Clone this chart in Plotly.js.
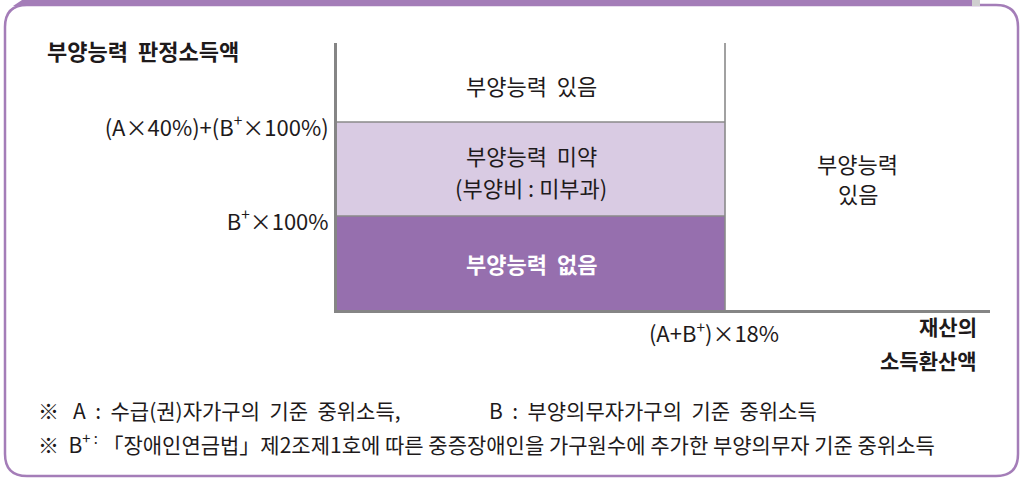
<!DOCTYPE html>
<html>
<head>
<meta charset="utf-8">
<script src="https://cdn.plot.ly/plotly-3.0.1.min.js"></script>
<style>
  html, body { margin: 0; padding: 0; background: #ffffff; }
  #chart { width: 1020px; height: 478px; }
</style>
</head>
<body>
<div id="chart"></div>
<script>
// ---- data ----
const xThreshold = [1];                         // (A+B+)×18%
const xTickLabels = ['(A+B<sup>+</sup>)×18%'];
const xMax = 1.683;
const yThresholds = [1, 2];                     // B+×100%, (A×40%)+(B+×100%)
const yTickLabels = ['B<sup>+</sup>×100%', '(A×40%)+(B<sup>+</sup>×100%)'];
const yMax = 2.84;
const regionLabels = ['부양능력 없음', '부양능력 미약', '(부양비 : 미부과)', '부양능력 있음', '부양능력', '있음'];
const yAxisTitle = '부양능력 판정소득액';
const xAxisTitle = ['재산의', '소득환산액'];
const footnotes = [
  '※ A : 수급(권)자가구의 기준 중위소득,',
  'B : 부양의무자가구의 기준 중위소득',
  '※ B<sup>+ :</sup> 「장애인연금법」제2조제1호에 따른 중증장애인을 가구원수에 추가한 부양의무자 기준 중위소득'
];

// ---- layout helpers ----
const W = 1020, H = 478;
const M = {l: 337, r: 30, t: 43, b: 168};
const PW = W - M.l - M.r, PH = H - M.t - M.b;
const px = x => (x - M.l) / PW;
const py = y => (H - M.b - y) / PH;
const wide = s => s.replace(/ /g, '\u00a0\u00a0');

const FONT = 'Noto Sans CJK KR, Noto Sans, sans-serif';
const TXT = '#1e1a1b';
const PURPLE = '#a47db8';
const DARK = '#966fae';
const LIGHT = '#d9cbe3';
const GRID = '#8a8a8a';

const traces = [
  {type: 'bar', x: [xThreshold[0] / 2], width: [xThreshold[0]], base: [0], y: [yThresholds[0]],
   marker: {color: DARK, line: {width: 0}}, hoverinfo: 'skip', showlegend: false},
  {type: 'bar', x: [xThreshold[0] / 2], width: [xThreshold[0]], base: [yThresholds[0]], y: [yThresholds[1] - yThresholds[0]],
   marker: {color: LIGHT, line: {width: 0}}, hoverinfo: 'skip', showlegend: false},
  {type: 'scatter', mode: 'lines',
   x: [0, xThreshold[0], null, 0, xThreshold[0], null, xThreshold[0], xThreshold[0]],
   y: [yThresholds[0], yThresholds[0], null, yThresholds[1], yThresholds[1], null, 0, yMax],
   line: {color: GRID, width: 1.6}, hoverinfo: 'skip', showlegend: false, cliponaxis: false}
];

const xc = xThreshold[0] / 2;
const xr = (xThreshold[0] + xMax) / 2;
const RS = 22;
const annotations = [
  {x: xc, y: yThresholds[0] / 2, xref: 'x', yref: 'y', text: '<b>' + wide(regionLabels[0]) + '</b>', showarrow: false,
   font: {family: FONT, size: RS, color: '#ffffff'}},
  {x: xc, y: 1.65, xref: 'x', yref: 'y', text: wide(regionLabels[1]), showarrow: false,
   font: {family: FONT, size: RS, color: TXT}},
  {x: xc, y: 1.31, xref: 'x', yref: 'y', text: regionLabels[2], showarrow: false,
   font: {family: FONT, size: RS, color: TXT}},
  {x: xc, y: 2.39, xref: 'x', yref: 'y', text: wide(regionLabels[3]), showarrow: false,
   font: {family: FONT, size: RS, color: TXT}},
  {x: xr, y: 1.56, xref: 'x', yref: 'y', text: regionLabels[4], showarrow: false,
   font: {family: FONT, size: RS, color: TXT}},
  {x: xr, y: 1.24, xref: 'x', yref: 'y', text: regionLabels[5], showarrow: false,
   font: {family: FONT, size: RS, color: TXT}},
  {x: px(45), y: py(50), xref: 'paper', yref: 'paper', xanchor: 'left', yanchor: 'middle',
   text: '<b>' + wide(yAxisTitle) + '</b>', showarrow: false, font: {family: FONT, size: 22, color: TXT}},
  {x: px(979), y: py(326), xref: 'paper', yref: 'paper', xanchor: 'right', yanchor: 'middle',
   text: '<b>' + xAxisTitle[0] + '</b>', showarrow: false, font: {family: FONT, size: 21, color: TXT}},
  {x: px(979), y: py(360), xref: 'paper', yref: 'paper', xanchor: 'right', yanchor: 'middle',
   text: '<b>' + xAxisTitle[1] + '</b>', showarrow: false, font: {family: FONT, size: 21, color: TXT}},
  {x: px(36), y: py(410), xref: 'paper', yref: 'paper', xanchor: 'left', yanchor: 'middle',
   text: wide(footnotes[0]).replace('※\u00a0\u00a0', '※\u00a0\u00a0\u00a0'), showarrow: false, font: {family: FONT, size: 21, color: TXT}},
  {x: px(487), y: py(410), xref: 'paper', yref: 'paper', xanchor: 'left', yanchor: 'middle',
   text: wide(footnotes[1]), showarrow: false, font: {family: FONT, size: 21, color: TXT}},
  {x: px(36), y: py(443), xref: 'paper', yref: 'paper', xanchor: 'left', yanchor: 'middle',
   text: footnotes[2].replace('※ ', '※\u00a0\u00a0'), showarrow: false, font: {family: FONT, size: 21, color: TXT}}
];

// rounded frame
const L = 5, R = 1018, T = 5, B = 476, RAD = 22;
const P = (x, y) => px(x) + ',' + py(y);
const framePath = 'M' + P(L + RAD, T) + ' L' + P(R - RAD, T) +
  ' Q' + P(R, T) + ' ' + P(R, T + RAD) +
  ' L' + P(R, B - RAD) + ' Q' + P(R, B) + ' ' + P(R - RAD, B) +
  ' L' + P(L + RAD, B) + ' Q' + P(L, B) + ' ' + P(L, B - RAD) +
  ' L' + P(L, T + RAD) + ' Q' + P(L, T) + ' ' + P(L + RAD, T) + ' Z';

const shapes = [
  {type: 'path', xref: 'paper', yref: 'paper', path: framePath, line: {color: PURPLE, width: 2.5}, layer: 'below'},
  {type: 'path', xref: 'paper', yref: 'paper',
   path: 'M' + P(13, 6) + ' L' + P(22, 0) + ' L' + P(972, 0) + ' L' + P(972, 6) + ' Z',
   fillcolor: PURPLE, line: {width: 0}, layer: 'below'},
  {type: 'rect', xref: 'paper', yref: 'paper', x0: px(972), x1: px(980), y0: py(0), y1: py(6),
   fillcolor: '#cfcfcf', line: {width: 0}, layer: 'below'}
];

const layout = {
  width: W, height: H,
  margin: M,
  paper_bgcolor: '#ffffff', plot_bgcolor: 'rgba(0,0,0,0)',
  barmode: 'overlay', bargap: 0,
  showlegend: false,
  font: {family: FONT, color: TXT},
  xaxis: {range: [0, xMax], showgrid: false, zeroline: false, showline: true, linecolor: '#858585', linewidth: 3,
          tickvals: xThreshold, ticktext: xTickLabels, ticks: '', ticklabelshift: -11, ticklabelstandoff: 3,
          tickfont: {family: FONT, size: 22, color: TXT}, fixedrange: true},
  yaxis: {range: [0, yMax], showgrid: false, zeroline: false, showline: true, linecolor: '#858585', linewidth: 3,
          tickvals: yThresholds, ticktext: yTickLabels, ticks: '', ticklabelshift: 6, ticklabelstandoff: 1,
          tickfont: {family: FONT, size: 22, color: TXT}, fixedrange: true},
  annotations: annotations,
  shapes: shapes
};

Plotly.newPlot('chart', traces, layout, {staticPlot: true, displayModeBar: false});
</script>
</body>
</html>
